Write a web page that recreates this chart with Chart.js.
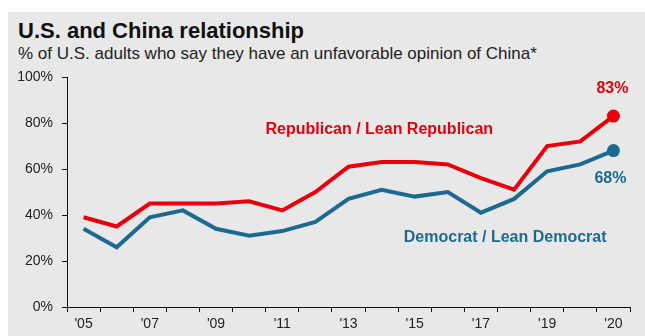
<!DOCTYPE html>
<html>
<head>
<meta charset="utf-8">
<script src="https://cdn.jsdelivr.net/npm/chart.js@4/dist/chart.umd.min.js"></script>
<style>
    html, body { margin: 0; padding: 0; background: #ffffff; }
    #wrap { position: relative; width: 645px; height: 336px; overflow: hidden; font-family: "Liberation Sans", Arial, sans-serif; }
    #panel { position: absolute; left: 8px; top: 12px; right: 0; bottom: 0; background: #e8e8e8; }
    #title { position: absolute; left: 18px; top: 17px; font-size: 22px; font-weight: bold; color: #111; line-height: 28px; }
    #subtitle { position: absolute; left: 18px; top: 43px; font-size: 17px; color: #222; line-height: 22px; }
    canvas { position: absolute; left: 0; top: 0; }
</style>
</head>
<body>
<div id="wrap">
    <div id="panel"></div>
    <div id="title">U.S. and China relationship</div>
    <div id="subtitle">% of U.S. adults who say they have an unfavorable opinion of China*</div>
    <canvas id="china-chart" width="645" height="336"></canvas>
</div>
<script>
    // survey waves, 2020 had two (spring + summer)
    const years = ['2005','2006','2007','2008','2009','2010','2011','2012','2013','2014','2015','2016','2017','2018','2019','2020 Mar','2020 Jul'];
    const tickLabels = ["'05","","'07","","'09","","'11","","'13","","'15","","'17","","'19","","'20"];
    const republican = [39, 35, 45, 45, 45, 46, 42, 50, 61, 63, 63, 62, 56, 51, 70, 72, 83];
    const democrat = [34, 26, 39, 42, 34, 31, 33, 37, 47, 51, 48, 50, 41, 47, 59, 62, 68];
    const yTicks = [0, 20, 40, 60, 80, 100];

    const redColor = '#e8000c';
    const blueColor = '#1d6a91';

    function lastPointOnly(size) {
        return function (ctx) {
            return ctx.dataIndex === years.length - 1 ? size : 0;
        };
    }

    const labelPlugin = {
        id: 'seriesLabels',
        afterDatasetsDraw(chart) {
            const ctx = chart.ctx;
            const x = chart.scales.x;
            const y = chart.scales.y;
            const last = years.length - 1;
            ctx.save();
            ctx.font = 'bold 16px "Liberation Sans", Arial, sans-serif';
            ctx.textAlign = 'center';
            ctx.textBaseline = 'middle';

            ctx.fillStyle = redColor;
            ctx.fillText('Republican / Lean Republican', x.getPixelForValue(8.93), y.getPixelForValue(77));
            ctx.fillText(republican[last] + '%', x.getPixelForValue(last) - 1, y.getPixelForValue(republican[last]) - 28);

            ctx.fillStyle = blueColor;
            ctx.fillText('Democrat / Lean Democrat', x.getPixelForValue(12.73), y.getPixelForValue(30));
            ctx.fillText(democrat[last] + '%', x.getPixelForValue(last) - 3, y.getPixelForValue(democrat[last]) + 28);
            ctx.restore();
        }
    };

    const chartData = {
        labels: years,
        datasets: [
            {
                label: 'Republican / Lean Republican',
                data: republican,
                borderColor: redColor,
                backgroundColor: redColor,
                borderWidth: 4,
                tension: 0,
                pointRadius: lastPointOnly(6.5),
                pointHoverRadius: lastPointOnly(6.5),
                pointBorderWidth: 0
            },
            {
                label: 'Democrat / Lean Democrat',
                data: democrat,
                borderColor: blueColor,
                backgroundColor: blueColor,
                borderWidth: 4,
                tension: 0,
                pointRadius: lastPointOnly(6.5),
                pointHoverRadius: lastPointOnly(6.5),
                pointBorderWidth: 0
            }
        ]
    };

    const chartConfig = {
        type: 'line',
        data: chartData,
        plugins: [labelPlugin],
        options: {
            responsive: false,
            animation: false,
            layout: {
                padding: { left: 17, right: 15, top: 77, bottom: 0 }
            },
            plugins: {
                legend: { display: false },
                title: { display: false },
                tooltip: { enabled: false }
            },
            scales: {
                x: {
                    offset: true,
                    afterFit: function (scale) {
                        scale.height = 29;
                    },
                    grid: {
                        offset: true,
                        drawOnChartArea: false,
                        drawTicks: true,
                        tickLength: 5,
                        color: '#111'
                    },
                    border: { color: '#111', width: 1 },
                    ticks: {
                        autoSkip: false,
                        maxRotation: 0,
                        padding: 4,
                        color: '#222',
                        font: { family: '"Liberation Sans", Arial, sans-serif', size: 14 },
                        callback: function (value, index) {
                            return tickLabels[index];
                        }
                    }
                },
                y: {
                    min: 0,
                    max: 100,
                    afterBuildTicks: function (scale) {
                        scale.ticks = yTicks.map(v => ({ value: v }));
                    },
                    afterFit: function (scale) {
                        scale.width = 50;
                    },
                    grid: {
                        drawOnChartArea: false,
                        drawTicks: true,
                        tickLength: 5,
                        color: '#111'
                    },
                    border: { color: '#111', width: 1 },
                    ticks: {
                        padding: 9,
                        color: '#222',
                        font: { family: '"Liberation Sans", Arial, sans-serif', size: 14 },
                        callback: function (value) {
                            return value + '%';
                        }
                    }
                }
            }
        }
    };

    const chinaChart = new Chart(
        document.getElementById('china-chart'),
        chartConfig
    );
</script>
</body>
</html>
